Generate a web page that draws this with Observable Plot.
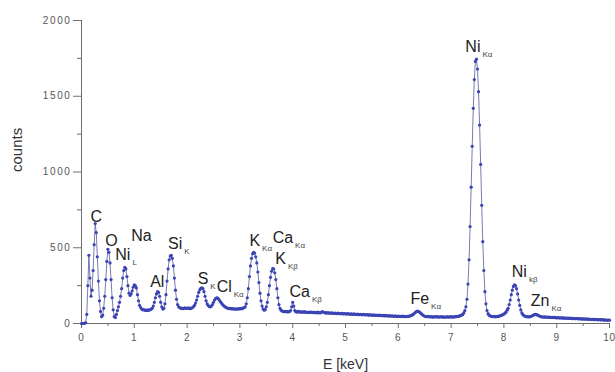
<!DOCTYPE html>
<html>
<head>
<meta charset="utf-8">
<script src="https://cdn.jsdelivr.net/npm/d3@7"></script>
<script src="https://cdn.jsdelivr.net/npm/@observablehq/plot@0.6"></script>
<style>
  html, body { margin: 0; padding: 0; background: #fff; }
  .ticklab text { letter-spacing: 1.6px; }
  .ticklabx text { letter-spacing: 0.8px; }
</style>
</head>
<body>
<div id="chart"></div>
<script>
// EDX spectrum: channel step (keV) and counts per channel
const energyStep = 0.02;
const counts = [
  0,0,0,2,5,60,250,450,300,180,
  220,350,520,660,600,440,280,150,80,45,
  55,100,180,290,410,490,470,400,290,170,
  90,45,40,60,85,110,140,180,230,300,
  350,370,360,310,250,200,185,195,215,240,
  255,250,235,190,150,120,105,95,90,92,
  88,85,90,86,88,92,95,100,115,140,
  170,195,210,205,180,140,110,95,100,130,
  190,280,360,420,445,450,430,380,300,220,
  160,125,110,105,100,102,98,100,104,99,
  102,100,103,98,100,105,110,120,135,155,
  180,205,222,232,235,230,210,180,150,130,
  118,112,110,115,125,140,155,165,170,168,
  160,150,140,130,122,115,110,105,102,100,
  98,100,96,98,95,97,94,96,95,98,
  96,100,97,102,105,110,130,170,230,310,
  380,430,460,470,465,440,400,340,270,200,
  150,115,95,88,92,110,140,190,250,305,
  345,362,360,335,290,230,170,125,100,88,
  82,80,78,80,77,78,76,80,85,110,
  140,115,85,78,75,80,76,78,74,77,
  75,78,73,76,74,72,75,73,76,72,
  74,71,73,70,75,72,70,74,78,76,
  72,70,69,72,68,71,67,70,68,66,
  69,67,65,68,66,64,67,65,63,66,
  64,62,65,63,61,64,62,60,63,61,
  59,62,60,58,61,59,57,60,58,56,
  59,57,55,58,56,54,57,55,53,56,
  54,52,55,53,51,54,52,50,53,51,
  49,52,50,48,51,49,47,50,48,46,
  49,47,48,46,49,47,45,48,46,47,
  48,50,52,55,60,66,72,78,82,80,
  76,70,63,57,52,48,46,45,47,44,
  46,43,45,42,44,46,43,45,42,44,
  43,45,42,44,41,43,45,42,44,43,
  45,42,44,43,46,45,48,47,50,52,
  55,60,70,85,110,160,260,420,640,900,
  1170,1420,1610,1730,1745,1680,1530,1310,1050,780,
  540,350,210,130,85,65,55,50,48,46,
  45,47,44,46,48,47,50,52,55,58,
  62,68,75,88,100,125,155,190,220,245,
  255,250,230,195,155,120,90,70,58,52,
  48,46,44,45,43,46,48,52,55,58,
  60,58,55,52,48,46,44,43,42,44,
  41,43,40,42,39,41,40,38,40,39,
  37,39,38,36,38,37,35,37,36,34,
  36,35,33,35,34,32,34,33,31,33,
  32,30,32,31,29,31,30,28,30,29,
  27,29,28,26,28,27,25,27,26,24,
  26,25,23,25,24,22,24,23,21,23,
  22
];

// Peak annotations
const peakLabels  = ["C","O","Ni","Na","Al","Si","S","Cl","K","Ca","K","Ca","Fe","Ni","Ni","Zn"];
const peakSubs    = ["","","L","","","K","K","Kα","Kα","Kα","Kβ","Kβ","Kα","Kα","kβ","Kα"];
const labelEnergy = [0.17,0.45,0.64,0.94,1.30,1.64,2.20,2.56,3.18,3.62,3.67,3.94,6.23,7.27,8.15,8.51];
const labelCounts = [706,548,455,581,277,528,297,244,548,568,429,211,165,1828,343,152];

// Axis ticks
const xTicks = [0,1,2,3,4,5,6,7,8,9,10];
const xMinorTicks = [0.5,1.5,2.5,3.5,4.5,5.5,6.5,7.5,8.5,9.5];
const yTicks = [0,500,1000,1500,2000];
const yMinorTicks = [250,750,1250,1750];

const spectrum = counts.map((c, i) => ({E: +(i * energyStep).toFixed(2), c}));
const annots = peakLabels.map((t, i) => ({E: labelEnergy[i], c: labelCounts[i], t, sub: peakSubs[i]}));

const axisColor = "#6e6e6e";
const tickText = "#555";
const blue = "#3a44b4";

const chart = Plot.plot({
  width: 615,
  height: 372,
  marginLeft: 81,
  marginRight: 6,
  marginTop: 20,
  marginBottom: 49,
  style: {fontFamily: "'Liberation Sans', Arial, sans-serif", background: "#fff"},
  x: {domain: [0, 10]},
  y: {domain: [0, 2000]},
  marks: [
    Plot.axisX(xTicks, {tickSize: 5, tickPadding: 5, fontSize: 10, fill: tickText, stroke: axisColor, label: null, tickFormat: d => String(d), className: "ticklabx"}),
    Plot.axisX(xMinorTicks, {tickSize: 3, text: null, stroke: axisColor, label: null}),
    Plot.axisY(yTicks, {tickSize: 8, tickPadding: 2, fontSize: 10, fill: tickText, stroke: axisColor, label: null, tickFormat: d => String(d), className: "ticklab"}),
    Plot.axisY(yMinorTicks, {tickSize: 4, text: null, stroke: axisColor, label: null}),
    Plot.ruleY([0], {stroke: axisColor, strokeWidth: 1}),
    Plot.ruleX([0], {stroke: axisColor, strokeWidth: 1}),
    Plot.text(["E [keV]"], {frameAnchor: "bottom", dy: 45, fontSize: 14, fill: "#333"}),
    Plot.text(["counts"], {frameAnchor: "left", rotate: -90, dx: -64, fontSize: 15, fill: "#333"}),
    Plot.line(spectrum, {x: "E", y: "c", stroke: "#3c4290", strokeWidth: 0.7}),
    Plot.dot(spectrum, {x: "E", y: "c", r: 1.6, fill: blue, stroke: null}),
    Plot.text(annots, {x: "E", y: "c", text: "t", textAnchor: "start", fontSize: 16, fill: "#222", className: "peaklab"})
  ]
});

// add subscripts to peak labels
const labs = chart.querySelectorAll("g.peaklab text");
labs.forEach((el, i) => {
  const s = annots[i].sub;
  if (!s) return;
  const ts = document.createElementNS("http://www.w3.org/2000/svg", "tspan");
  ts.setAttribute("dx", "2");
  ts.setAttribute("dy", "5");
  ts.setAttribute("font-size", "8");
  ts.setAttribute("fill", "#444");
  ts.textContent = s;
  el.appendChild(ts);
});

document.getElementById("chart").appendChild(chart);
</script>
</body>
</html>
